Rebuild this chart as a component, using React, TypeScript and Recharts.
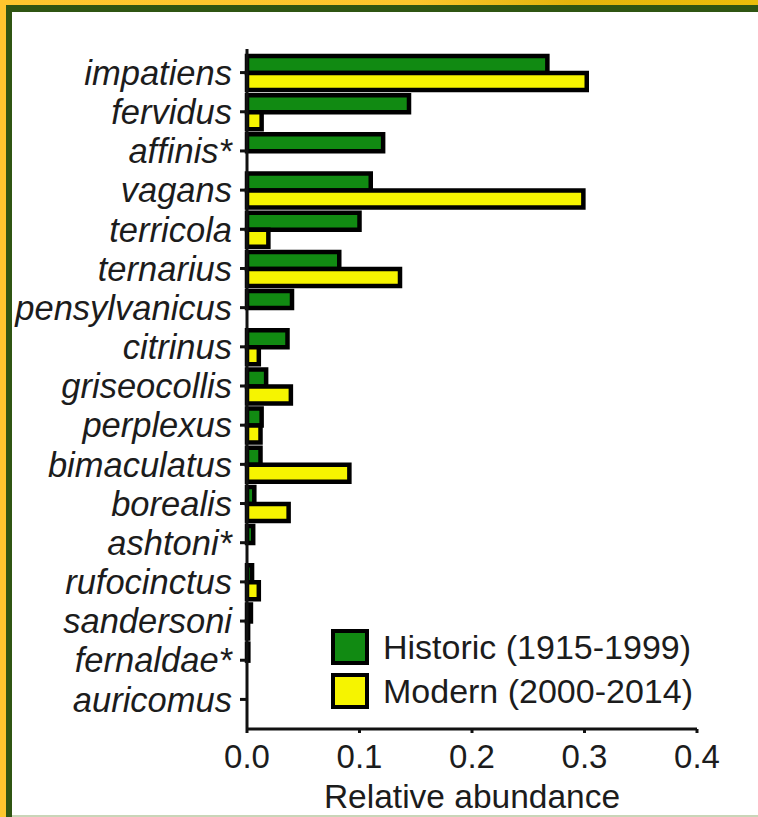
import { Bar, BarChart, Legend, XAxis, YAxis } from "recharts";

const FONT = "'Liberation Sans', Arial, Helvetica, sans-serif";
const TEXT = "#1c1c1c";
const HISTORIC_COLOR = "#118a12";
const MODERN_COLOR = "#f6f400";

const species = [
  "impatiens",
  "fervidus",
  "affinis*",
  "vagans",
  "terricola",
  "ternarius",
  "pensylvanicus",
  "citrinus",
  "griseocollis",
  "perplexus",
  "bimaculatus",
  "borealis",
  "ashtoni*",
  "rufocinctus",
  "sandersoni",
  "fernaldae*",
  "auricomus",
];
const historic = [
  0.267, 0.144, 0.121, 0.11, 0.1, 0.082, 0.04, 0.036, 0.017, 0.013, 0.012, 0.0065, 0.0055, 0.0045,
  0.0035, 0.0012, 0,
];
const modern = [
  0.302, 0.013, 0, 0.299, 0.019, 0.136, 0, 0.0105, 0.039, 0.012, 0.091, 0.037, 0, 0.0105, 0.001, 0, 0,
];
const xTicks = [0, 0.1, 0.2, 0.3, 0.4];
const legendItems = [
  { label: "Historic (1915-1999)", color: HISTORIC_COLOR },
  { label: "Modern (2000-2014)", color: MODERN_COLOR },
];

const data = species.map((name, i) => ({ name, historic: historic[i], modern: modern[i] }));

function LegendBox() {
  return (
    <div style={{ fontFamily: FONT, color: TEXT, fontSize: 34 }}>
      {legendItems.map((it) => (
        <div key={it.label} style={{ display: "flex", alignItems: "center", height: 44 }}>
          <span
            style={{
              display: "inline-block",
              width: 30,
              height: 28,
              background: it.color,
              border: "4px solid #000",
              marginRight: 14,
            }}
          />
          <span>{it.label}</span>
        </div>
      ))}
    </div>
  );
}

export default function App() {
  return (
    <div
      style={{
        position: "absolute",
        left: 0,
        top: 0,
        width: 758,
        height: 817,
        background: "linear-gradient(90deg, #fec62e 0%, #fcc52c 55%, #e3b40c 75%, #ebbd0a 100%)",
      }}
    >
      <div style={{ position: "absolute", left: 6, top: 5, width: 752, height: 812, background: "#2f5513" }} />
      <div style={{ position: "absolute", left: 12, top: 12, width: 746, height: 803, background: "#fff" }} />
      <div style={{ position: "absolute", left: 12, top: 815, width: 746, height: 2, background: "#c9d5b8" }} />
      <div style={{ position: "absolute", left: 0, top: 0 }}>
        <BarChart
          width={758}
          height={817}
          data={data}
          layout="vertical"
          margin={{ top: 49, right: 61, bottom: 0, left: 0 }}
          barSize={17}
          barGap={0}
        >
          <XAxis
            type="number"
            domain={[0, 0.4]}
            ticks={xTicks}
            tickFormatter={(v: number) => v.toFixed(1)}
            height={88}
            tickSize={4}
            tickMargin={12}
            axisLine={{ stroke: "#111", strokeWidth: 3 }}
            tickLine={{ stroke: "#111", strokeWidth: 3 }}
            tick={{ fontSize: 33, fill: TEXT, fontFamily: FONT }}
            label={{
              value: "Relative abundance",
              position: "insideBottom",
              offset: 9,
              fontSize: 33.5,
              fill: TEXT,
              fontFamily: FONT,
            }}
          />
          <YAxis
            type="category"
            dataKey="name"
            width={247}
            interval={0}
            padding={{ top: 4, bottom: 10 }}
            tickSize={7}
            tickMargin={8}
            axisLine={{ stroke: "#111", strokeWidth: 3 }}
            tickLine={{ stroke: "#111", strokeWidth: 3 }}
            tick={{ fontSize: 34.5, fill: TEXT, fontFamily: FONT, fontStyle: "italic" }}
          />
          <Legend
            layout="horizontal"
            verticalAlign="middle"
            content={() => <LegendBox />}
            wrapperStyle={{ left: 331, top: 625, width: 420 }}
          />
          <Bar
            dataKey="historic"
            name="Historic (1915-1999)"
            fill={HISTORIC_COLOR}
            stroke="#000"
            strokeWidth={4.5}
            isAnimationActive={false}
          />
          <Bar
            dataKey="modern"
            name="Modern (2000-2014)"
            fill={MODERN_COLOR}
            stroke="#000"
            strokeWidth={4.5}
            isAnimationActive={false}
          />
        </BarChart>
      </div>
    </div>
  );
}
